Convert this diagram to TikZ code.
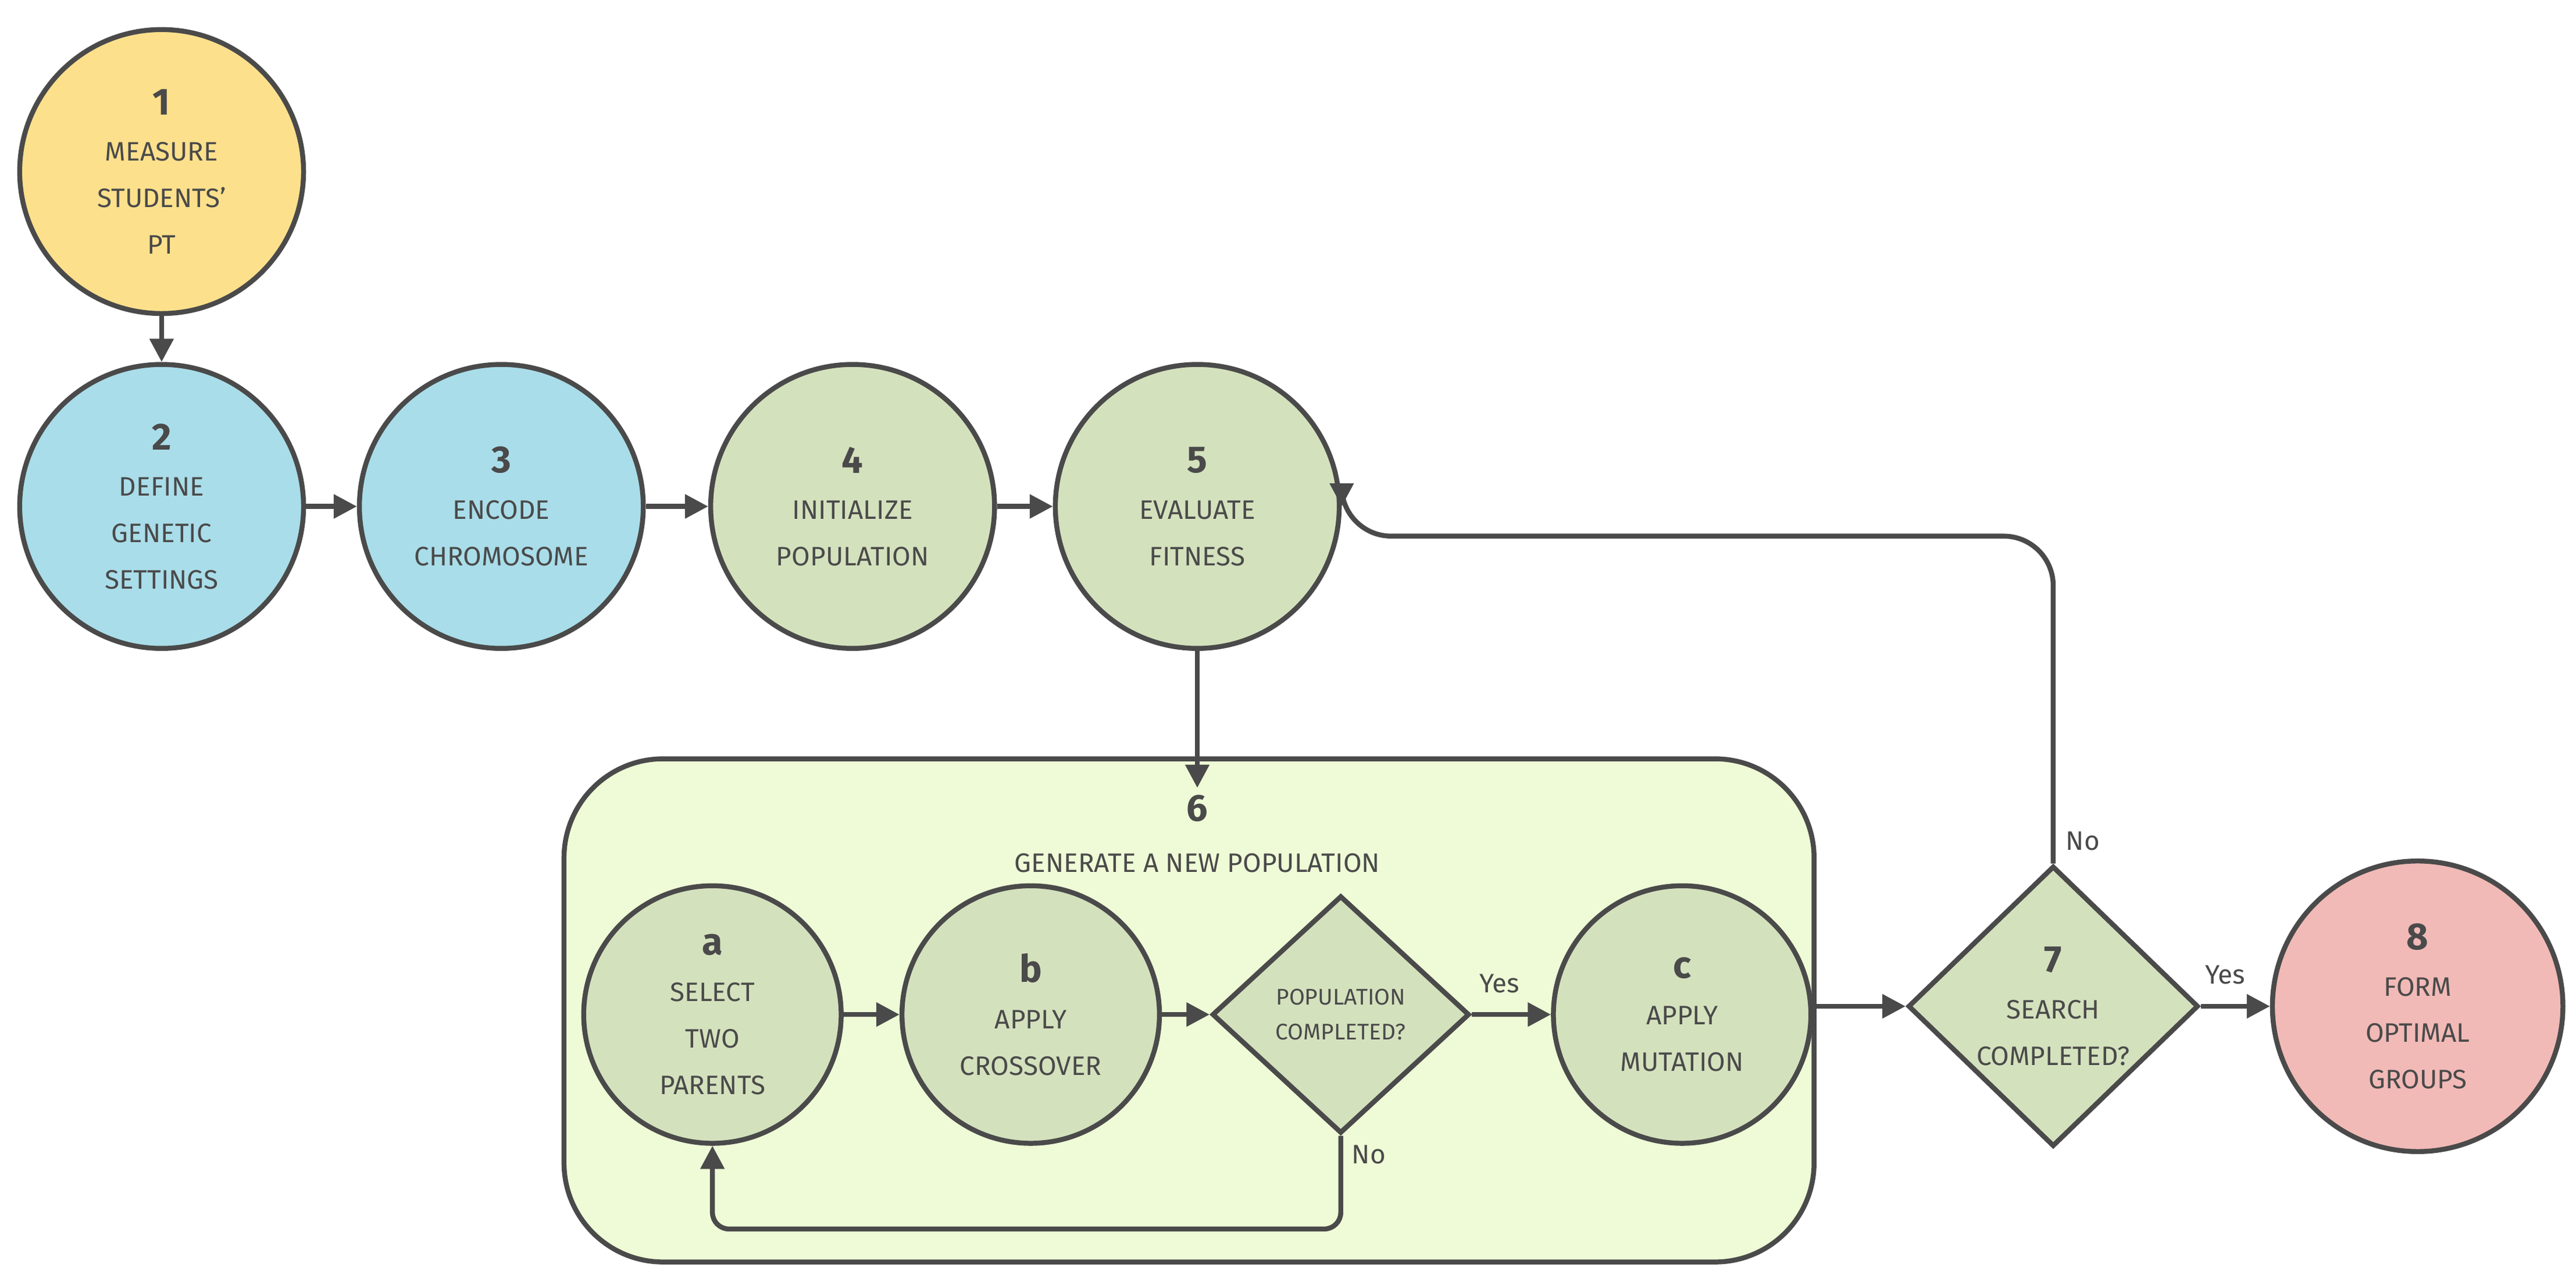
\documentclass[tikz,border=0pt]{standalone}
\usepackage{fontspec}
\setmainfont{Fira Sans}
\usetikzlibrary{shapes.geometric,arrows.meta}
\definecolor{ln}{HTML}{4A4A4A}
\definecolor{cy}{HTML}{FDE08C}
\definecolor{cb}{HTML}{A9DDE9}
\definecolor{cg}{HTML}{D4E1BD}
\definecolor{cp}{HTML}{F1BAB7}
\definecolor{cr}{HTML}{EEFBD6}
\begin{document}
\begin{tikzpicture}[x=0.01cm,y=-0.01cm,
 every node/.style={text=ln,font=\fontsize{4.6pt}{8pt}\selectfont},
 circ/.style={circle,draw=ln,line width=0.85pt,minimum size=#1*0.02cm,inner sep=0pt,align=center},
 dia/.style={diamond,draw=ln,line width=0.85pt,fill=cg,align=center,aspect=1.1,inner sep=0pt},
 arr/.style={draw=ln,line width=0.85pt,-{Triangle[length=4pt,width=4pt]}},
 num/.style={font=\fontsize{6.5pt}{8pt}\bfseries\selectfont}]
\useasboundingbox (0,0) rectangle (1562,777);
\node[circ=86,fill=cy] (n1) at (98,104) {{\fontsize{6.5pt}{8pt}\bfseries 1}\\MEASURE\\STUDENTS'\\PT};
\node[circ=86,fill=cb] (n2) at (98,307) {{\fontsize{6.5pt}{8pt}\bfseries 2}\\DEFINE\\GENETIC\\SETTINGS};
\node[circ=86,fill=cb] (n3) at (304,307) {{\fontsize{6.5pt}{8pt}\bfseries 3}\\ENCODE\\CHROMOSOME};
\node[circ=86,fill=cg] (n4) at (517,307) {{\fontsize{6.5pt}{8pt}\bfseries 4}\\INITIALIZE\\POPULATION};
\node[circ=86,fill=cg] (n5) at (726,307) {{\fontsize{6.5pt}{8pt}\bfseries 5}\\EVALUATE\\FITNESS};
\draw[draw=ln,line width=0.85pt,fill=cr,rounded corners=0.6cm] (342,460) rectangle (1100,765);
\coordinate (rt) at (726,460);
\coordinate (rr) at (1100,610);
\node[num] (l6) at (726,490) {6};
\node (t6) at (726,523) {GENERATE A NEW POPULATION};
\node[circ=78,fill=cg] (na) at (432,615) {{\fontsize{6.5pt}{8pt}\bfseries a}\\SELECT\\TWO\\PARENTS};
\node[circ=78,fill=cg] (nb) at (625,615) {{\fontsize{6.5pt}{8pt}\bfseries b}\\APPLY\\CROSSOVER};
\node[dia,minimum width=1.56cm,minimum height=1.44cm,font=\fontsize{3.9pt}{6pt}\selectfont] (pd) at (813,615) {POPULATION\\COMPLETED?};
\node[circ=78,fill=cg] (nc) at (1020,615) {{\fontsize{6.5pt}{8pt}\bfseries c}\\APPLY\\MUTATION};
\node[dia,minimum width=1.76cm,minimum height=1.7cm] (n7) at (1245,610) {{\fontsize{6.5pt}{8pt}\bfseries 7}\\SEARCH\\COMPLETED?};
\node[circ=88,fill=cp] (n8) at (1466,610) {{\fontsize{6.5pt}{8pt}\bfseries 8}\\FORM\\OPTIMAL\\GROUPS};
\draw[arr] (n1) -- (n2);
\draw[arr] (n2) -- (n3);
\draw[arr] (n3) -- (n4);
\draw[arr] (n4) -- (n5);
\draw[arr] (n5) -- ([yshift=-5]rt);
\draw[arr] (na) -- (nb);
\draw[arr] (nb) -- (pd);
\draw[arr] (pd) -- node[above,pos=0.35] {Yes} (nc);
\draw[arr,rounded corners=0.1cm] (pd.south) -- (813,745) -- (432,745) -- (na.south);
\node (no1) at (830,700) {No};
\draw[arr] (rr) -- (n7);
\draw[arr] (n7) -- node[above,pos=0.35] {Yes} (n8);
\draw[arr,rounded corners=0.3cm] (n7.north) -- (1245,325) -- (n5.east |- 0,325) -- (n5.east);
\node (no2) at (1263,510) {No};
\end{tikzpicture}
\end{document}
